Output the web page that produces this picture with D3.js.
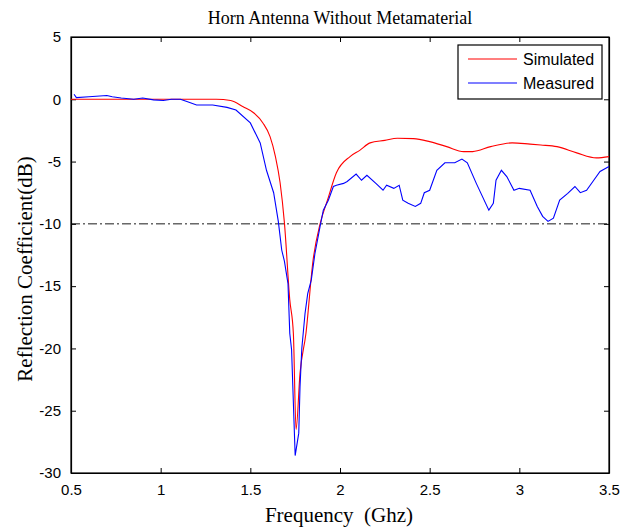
<!DOCTYPE html>
<html>
<head>
<meta charset="utf-8">
<script src="https://cdn.jsdelivr.net/npm/d3@7"></script>
<style>
body { margin: 0; background: #fff; }
svg { display: block; }
.tick text { font-family: "Liberation Sans", Arial, sans-serif; font-size: 15px; fill: #000; }
</style>
</head>
<body>
<svg width="633" height="528"></svg>
<script>
const xTicks = [0.5, 1, 1.5, 2, 2.5, 3, 3.5];
const yTicks = [5, 0, -5, -10, -15, -20, -25, -30];
const seriesNames = ['Simulated', 'Measured'];
const threshold = -10;

const simFreq = [0.5, 0.8, 1.1, 1.31, 1.39, 1.46, 1.52, 1.57, 1.61, 1.64, 1.666, 1.69, 1.72, 1.74, 1.755, 1.777, 1.81, 1.85, 1.889, 1.93, 1.98, 2.056, 2.11, 2.168, 2.25, 2.32, 2.41, 2.5, 2.595, 2.69, 2.74, 2.84, 2.96, 3.06, 3.12, 3.21, 3.32, 3.43, 3.5];
const simDb = [0.0, 0.0, 0.0, 0.0, -0.1, -0.6, -1.1, -1.9, -3.0, -4.6, -6.7, -9.9, -16.1, -18.8, -26.5, -22.0, -18.8, -12.9, -10.0, -8.1, -5.9, -4.6, -4.1, -3.5, -3.3, -3.13, -3.16, -3.4, -3.8, -4.2, -4.2, -3.8, -3.5, -3.6, -3.67, -3.8, -4.3, -4.7, -4.6];

const measFreq = [0.517, 0.53, 0.6, 0.7, 0.73, 0.78, 0.85, 0.9, 0.96, 1.015, 1.06, 1.11, 1.15, 1.2, 1.29, 1.37, 1.42, 1.5, 1.555, 1.59, 1.63, 1.656, 1.675, 1.69, 1.71, 1.72, 1.73, 1.75, 1.77, 1.777, 1.787, 1.805, 1.82, 1.84, 1.86, 1.889, 1.907, 1.935, 1.963, 1.98, 2.02, 2.04, 2.09, 2.12, 2.15, 2.2, 2.24, 2.26, 2.3, 2.33, 2.35, 2.38, 2.42, 2.45, 2.47, 2.5, 2.54, 2.585, 2.64, 2.68, 2.71, 2.76, 2.83, 2.855, 2.87, 2.9, 2.93, 2.97, 3.0, 3.06, 3.1, 3.13, 3.16, 3.19, 3.225, 3.27, 3.31, 3.34, 3.375, 3.41, 3.45, 3.5];
const measDb = [0.4, 0.13, 0.2, 0.3, 0.2, 0.1, 0.0, 0.1, -0.05, -0.1, 0.0, 0.0, -0.2, -0.46, -0.46, -0.65, -0.86, -1.9, -3.5, -5.7, -7.5, -9.8, -12.1, -13.0, -14.8, -18.8, -20.1, -28.6, -26.8, -23.1, -20.0, -17.2, -15.6, -14.5, -12.4, -10.2, -8.9, -8.1, -7.0, -6.9, -6.75, -6.6, -6.0, -6.5, -6.1, -6.75, -7.3, -6.9, -7.15, -6.9, -8.1, -8.35, -8.6, -8.35, -7.5, -7.3, -5.7, -5.1, -5.1, -4.8, -5.1, -6.75, -8.9, -8.35, -6.5, -5.7, -6.2, -7.3, -7.15, -7.3, -8.6, -9.4, -9.8, -9.55, -8.1, -7.55, -7.0, -7.5, -7.3, -6.6, -5.8, -5.4];

const margin = {left: 71, top: 37, right: 24, bottom: 55};
const width = 633 - margin.left - margin.right;
const height = 528 - margin.top - margin.bottom;

const svg = d3.select('svg');
const chart = svg.append('g')
    .attr('transform', `translate(${margin.left}, ${margin.top})`);

const xScale = d3.scaleLinear().domain([0.5, 3.5]).range([0, width]);
const yScale = d3.scaleLinear().domain([-30, 5]).range([height, 0]);

const plain = d => String(d);

// axes with inward ticks, MATLAB style box
chart.append('g')
    .attr('transform', `translate(0, ${height})`)
    .call(d3.axisBottom(xScale).tickValues(xTicks).tickSizeInner(-5).tickSizeOuter(0).tickPadding(11).tickFormat(plain));
chart.append('g')
    .call(d3.axisTop(xScale).tickValues(xTicks).tickSizeInner(-5).tickSizeOuter(0).tickFormat(''));
chart.append('g')
    .call(d3.axisLeft(yScale).tickValues(yTicks).tickSizeInner(-5).tickSizeOuter(0).tickPadding(10).tickFormat(plain));
chart.append('g')
    .attr('transform', `translate(${width}, 0)`)
    .call(d3.axisRight(yScale).tickValues(yTicks).tickSizeInner(-5).tickSizeOuter(0).tickFormat(''));
chart.selectAll('.domain').attr('stroke', '#000').attr('stroke-width', 1.2);
chart.selectAll('.tick line').attr('stroke', '#000');

chart.append('rect')
    .attr('width', width).attr('height', height)
    .attr('fill', 'none').attr('stroke', '#000').attr('stroke-width', 1.2);

chart.append('line')
    .attr('x1', xScale(0.5)).attr('x2', xScale(3.5))
    .attr('y1', yScale(threshold)).attr('y2', yScale(threshold))
    .attr('stroke', '#000').attr('stroke-width', 0.9)
    .attr('stroke-dasharray', '9,3,2,3');

const line = d3.line()
    .x(d => xScale(d[0]))
    .y(d => yScale(d[1]));

chart.append('path')
    .datum(d3.zip(simFreq, simDb))
    .attr('fill', 'none').attr('stroke', '#ff0000').attr('stroke-width', 1.1)
    .attr('d', line.curve(d3.curveMonotoneX));

chart.append('path')
    .datum(d3.zip(measFreq, measDb))
    .attr('fill', 'none').attr('stroke', '#0000ff').attr('stroke-width', 1.1)
    .attr('d', line.curve(d3.curveLinear));

// legend
const legend = svg.append('g').attr('transform', 'translate(458, 45)');
legend.append('rect')
    .attr('width', 144).attr('height', 54)
    .attr('fill', '#fff').attr('stroke', '#000').attr('stroke-width', 1.2);
const legendColors = ['#ff0000', '#0000ff'];
seriesNames.forEach((name, i) => {
    legend.append('line')
        .attr('x1', 10).attr('x2', 59)
        .attr('y1', 14 + i * 24).attr('y2', 14 + i * 24)
        .attr('stroke', legendColors[i]).attr('stroke-width', 1.1);
    legend.append('text')
        .attr('x', 65).attr('y', 20 + i * 24)
        .attr('font-family', '"Liberation Sans", Arial, sans-serif')
        .attr('font-size', 16)
        .text(name);
});

svg.append('text')
    .attr('x', 340).attr('y', 24)
    .attr('text-anchor', 'middle')
    .attr('font-family', '"Liberation Serif", "Times New Roman", serif')
    .attr('font-size', 18)
    .text('Horn Antenna Without Metamaterial');

svg.append('text')
    .attr('x', 339).attr('y', 522)
    .attr('text-anchor', 'middle')
    .attr('font-family', '"Liberation Serif", "Times New Roman", serif')
    .attr('font-size', 21)
    .style('white-space', 'pre')
    .text('Frequency  (Ghz)');

svg.append('text')
    .attr('transform', 'translate(32, 269) rotate(-90)')
    .attr('text-anchor', 'middle')
    .attr('font-family', '"Liberation Serif", "Times New Roman", serif')
    .attr('font-size', 21)
    .text('Reflection Coefficient(dB)');
</script>
</body>
</html>
